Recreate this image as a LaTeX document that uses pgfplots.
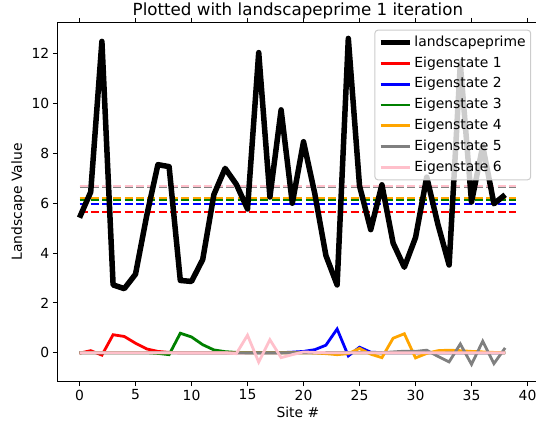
\documentclass[border=0pt]{standalone}
\usepackage{fontspec}
\setmainfont{DejaVu Sans}
\usepackage{pgfplots}
\usepackage{pgfplotstable}
\pgfplotsset{compat=1.18}
\definecolor{mplred}{HTML}{FF0000}
\definecolor{mplblue}{HTML}{0000FF}
\definecolor{mplgreen}{HTML}{008000}
\definecolor{mplorange}{HTML}{FFA500}
\definecolor{mplgray}{HTML}{808080}
\definecolor{mplpink}{HTML}{FFC0CB}
\definecolor{legframe}{HTML}{CCCCCC}
\newcommand\mplfont{\fontsize{13.9bp}{16bp}\selectfont}

% site, landscape, eigenstates 1..6
\pgfplotstableread{
x  land  e1    e2    e3    e4    e5    e6
0  5.42  -0.02 0     0     0     0     0
1  6.45  0.08  0     0     0     0     0
2  12.5  -0.10 0     0     0     0     0
3  2.72  0.72  0     0     0     0     0
4  2.57  0.65  0     0     0     0     0
5  3.15  0.38  0     0     0     0     0
6  5.5   0.15  0     0     0     0     0
7  7.55  0.05  0     -0.03 0     0     0
8  7.47  0.01  0     -0.08 0     0     0
9  2.9   0     0     0.78  0     0     0
10 2.86  0     0     0.63  0     0     0
11 3.74  0     0     0.32  0     0     0
12 6.35  0     0     0.11  0     0     0
13 7.4   0     0     0.04  0     0     0
14 6.76  0     0     0.01  0     0     -0.04
15 5.77  0     0     0     0     0     0.70
16 12.05 0     0     0     0     0     -0.38
17 6.25  0     0     0     0     0     0.52
18 9.75  0     0     0     0     0     -0.20
19 6.0   0     0.02  0     0     0     -0.08
20 8.47  0     0.05  0     0     0     0.03
21 6.4   0     0.12  0     -0.01 0     0.01
22 3.9   0     0.30  0     -0.04 0     0
23 2.72  0     0.95  0     -0.08 0     0
24 12.62 0     -0.13 0     -0.04 0     0
25 6.7   0     0.22  0     0.17  0     0
26 4.94  0     0.02  0     -0.06 0     0
27 6.74  0     0     0     -0.20 0     0
28 4.4   0     0     0     0.58  0.03  0
29 3.43  0     0     0     0.76  0.06  0
30 4.62  0     0     0     -0.21 0.05  0
31 7.05  0     0     0     -0.03 0.10  0
32 5.15  0     0     0     0.08  -0.15 0
33 3.52  0     0     0     0.10  -0.37 0
34 11.6  0     0     0     0.08  0.35  0
35 6.05  0     0     0     0.05  -0.47 0
36 8.3   0     0     0     0.03  0.46  0
37 5.98  0     0     0     0.01  -0.44 0
38 6.34  0     0     0     0     0.19  0
}\sites

\begin{document}
\begin{tikzpicture}
\begin{axis}[
  name=ax,
  scale only axis,
  width=480.5bp, height=358.6bp,
  xmin=-1.95, xmax=40.95, ymin=-1.15, ymax=13.25,
  xtick={0,5,...,40}, ytick={0,2,...,12},
  tick align=outside, major tick length=4.9bp,
  tick style={line width=1.1bp, black},
  axis line style={line width=1.1bp},
  /pgf/number format/assume math mode=true,
  ticklabel style={font=\mplfont},
  label style={font=\mplfont},
  xlabel={Site \#}, ylabel={Landscape Value},
  title={Plotted with landscapeprime 1 iteration},
  title style={font=\fontsize{16.7bp}{19bp}\selectfont, yshift=-6bp},
  legend cell align=left,
  legend image code/.code={\draw[#1] (0bp,0bp) -- (29bp,0bp);},
  legend style={at={(axis description cs:1,1)}, anchor=north east,
    xshift=-7bp, yshift=-7bp, fill=white, fill opacity=0.8, text opacity=1,
    draw=legframe, line width=1bp, rounded corners=3bp, font=\mplfont,
    row sep=0bp, inner xsep=3bp, inner ysep=2bp,
    nodes={inner ysep=3.65bp, text height=10.5bp, text depth=3bp}},
]
% eigenvalue levels, dashed
\addplot[forget plot, mplred, line width=2bp, dash pattern=on 8bp off 3.3bp] coordinates {(0,5.66) (39,5.66)};
\addplot[forget plot, mplblue, line width=2bp, dash pattern=on 8bp off 3.3bp] coordinates {(0,5.95) (39,5.95)};
\addplot[forget plot, mplgreen, line width=2bp, dash pattern=on 8bp off 3.3bp] coordinates {(0,6.14) (39,6.14)};
\addplot[forget plot, mplorange, line width=2bp, dash pattern=on 8bp off 3.3bp] coordinates {(0,6.21) (39,6.21)};
\addplot[forget plot, mplgray, line width=2bp, dash pattern=on 8bp off 3.3bp] coordinates {(0,6.65) (39,6.65)};
\addplot[forget plot, mplpink, line width=2bp, dash pattern=on 8bp off 3.3bp] coordinates {(0,6.71) (39,6.71)};

\addplot[black, line width=5.5bp, line join=round] table[x=x, y=land] {\sites};
\addlegendentry{landscapeprime}
\addplot[mplred, line width=2.8bp] table[x=x, y=e1] {\sites};
\addlegendentry{Eigenstate 1}
\addplot[mplblue, line width=2.8bp] table[x=x, y=e2] {\sites};
\addlegendentry{Eigenstate 2}
\addplot[mplgreen, line width=2.8bp] table[x=x, y=e3] {\sites};
\addlegendentry{Eigenstate 3}
\addplot[mplorange, line width=2.8bp] table[x=x, y=e4] {\sites};
\addlegendentry{Eigenstate 4}
\addplot[mplgray, line width=2.8bp] table[x=x, y=e5] {\sites};
\addlegendentry{Eigenstate 5}
\addplot[mplpink, line width=2.8bp] table[x=x, y=e6] {\sites};
\addlegendentry{Eigenstate 6}
\end{axis}
\pgfresetboundingbox
\path[use as bounding box] ([shift={(-57.66bp,-45.3bp)}]ax.south west)
  rectangle ([shift={(478.34bp,22.7bp)}]ax.north west);
\end{tikzpicture}
\end{document}
